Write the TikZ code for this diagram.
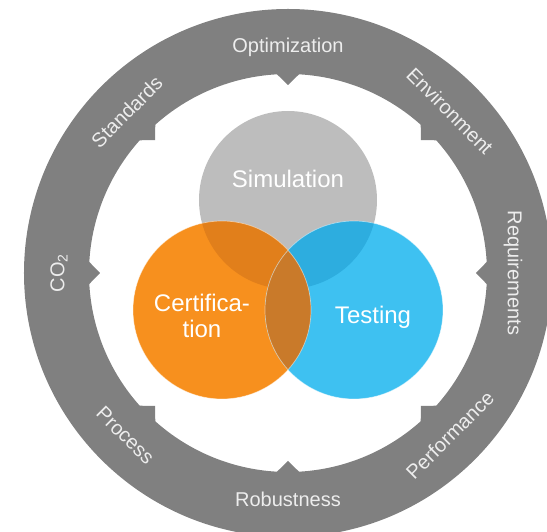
\documentclass[tikz,border=0pt]{standalone}
\usepackage{fontspec}
\setmainfont{Liberation Sans}
\definecolor{ringgray}{HTML}{808080}
\definecolor{simgray}{HTML}{BDBDBD}
\definecolor{certorange}{HTML}{F7901E}
\definecolor{testblue}{HTML}{3EC1F1}
\definecolor{simcert}{HTML}{E17F1B}
\definecolor{simtest}{HTML}{2DADDF}
\definecolor{certtest}{HTML}{C97A2A}
\definecolor{labelgray}{HTML}{EDEDED}

\begin{document}
\begin{tikzpicture}[x=1pt,y=1pt,
    ringlabel/.style={text=labelgray, font=\fontsize{20}{24}\selectfont, inner sep=0pt},
    bubblelabel/.style={text=white, font=\fontsize{24}{26}\selectfont, align=center, inner sep=0pt}]
    \useasboundingbox (-288,-259) rectangle (259,273);
    \clip (-288,-259) rectangle (259,273);

    % ring with eight teeth on the inside
    \fill[ringgray, even odd rule] (0,0) circle (264)
        (3.17:199) \foreach \k in {0,...,7} {
            arc[start angle={45*\k+3.17}, end angle={45*(\k+1)-3.17}, radius=199]
            -- ({45*(\k+1)}:188) -- ({45*(\k+1)+3.17}:199)} -- cycle;

    % the three circles
    \coordinate (simc) at (0,73);
    \coordinate (certc) at (-66,-37);
    \coordinate (testc) at (66,-37);
    \fill[simgray] (simc) circle (89);
    \fill[certorange] (certc) circle (89);
    \fill[testblue] (testc) circle (89);
    \begin{scope}
        \clip (simc) circle (89);
        \fill[simcert] (certc) circle (89);
        \fill[simtest] (testc) circle (89);
    \end{scope}
    \begin{scope}
        \clip (certc) circle (89);
        \fill[certtest] (testc) circle (89);
    \end{scope}
    \draw[white, line width=0.7pt, opacity=0.5] (certc) circle (89) (testc) circle (89);

    \node[bubblelabel] (simtext) at (0,94) {Simulation};
    \node[bubblelabel] (certtext) at (-86,-43) {Certifica-\\tion};
    \node[bubblelabel] (testtext) at (85,-44) {Testing};

    % labels on the ring
    \node[ringlabel] (optim) at (90:226) {Optimization};
    \node[ringlabel, rotate=-45] (envir) at (45:229) {Environment};
    \node[ringlabel, rotate=-90] (requi) at (0:225) {Requirements};
    \node[ringlabel, rotate=45] (perfo) at (-45:229) {Performance};
    \node[ringlabel] (robus) at (-90:226) {Robustness};
    \node[ringlabel, rotate=-45] (proce) at (-135:230) {Process};
    \node[ringlabel, rotate=90] (cotwo) at (180:229) {CO\textsubscript{2}};
    \node[ringlabel, rotate=45] (stand) at (135:228) {Standards};

\end{tikzpicture}
\end{document}
